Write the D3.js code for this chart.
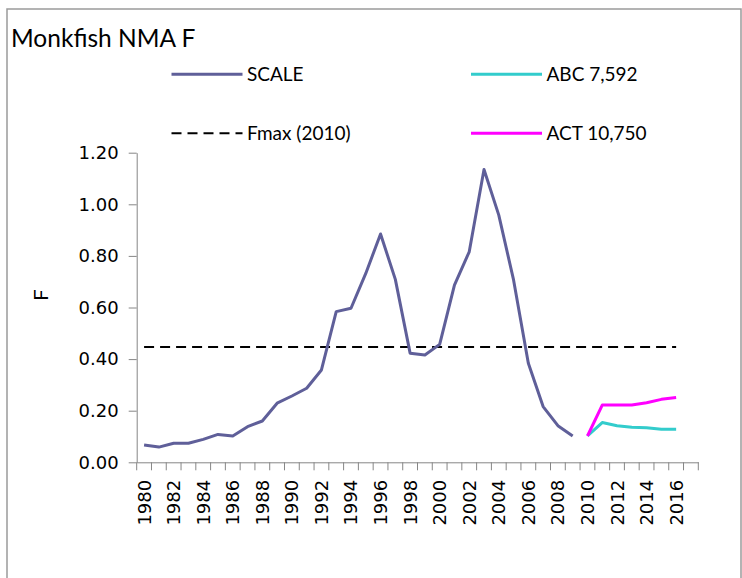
<!DOCTYPE html>
<html>
<head>
<meta charset="utf-8">
<script src="https://cdn.jsdelivr.net/npm/d3@7/dist/d3.min.js"></script>
<style>
  body { margin: 0; background: #fff; }
</style>
</head>
<body>
<div id="chart"></div>
<script>
// data
const years = [1980, 1981, 1982, 1983, 1984, 1985, 1986, 1987, 1988, 1989,
               1990, 1991, 1992, 1993, 1994, 1995, 1996, 1997, 1998, 1999,
               2000, 2001, 2002, 2003, 2004, 2005, 2006, 2007, 2008, 2009,
               2010, 2011, 2012, 2013, 2014, 2015, 2016, 2017];
const labelYears = [1980, 1982, 1984, 1986, 1988, 1990, 1992, 1994, 1996, 1998,
                    2000, 2002, 2004, 2006, 2008, 2010, 2012, 2014, 2016];
const yTicks = [0, 0.2, 0.4, 0.6, 0.8, 1.0, 1.2];

// SCALE model F, 1980-2009
const scaleValues = [0.067, 0.059, 0.074, 0.074, 0.089, 0.108, 0.102, 0.138, 0.160, 0.229,
                     0.257, 0.287, 0.358, 0.584, 0.597, 0.732, 0.885, 0.709, 0.423, 0.416,
                     0.457, 0.687, 0.816, 1.135, 0.958, 0.707, 0.384, 0.216, 0.142, 0.102];
// projections 2010-2016
const projYears = [2010, 2011, 2012, 2013, 2014, 2015, 2016];
const abcValues = [0.102, 0.154, 0.142, 0.136, 0.134, 0.128, 0.128];
const actValues = [0.102, 0.222, 0.222, 0.222, 0.231, 0.244, 0.251];
// Fmax reference line
const fmaxYears = [1980, 2016];
const fmaxValues = [0.447, 0.447];

const seriesNames = ['SCALE', 'ABC 7,592', 'Fmax (2010)', 'ACT 10,750'];

// layout
const width = 742, height = 578;
const plot = { left: 136.7, right: 698.3, top: 152.7, bottom: 462.3 };
const axisColor = '#868686';
const labelFont = 'Lato, "Liberation Sans", sans-serif';
const tickFont = '"DejaVu Sans", Verdana, sans-serif';

const svg = d3.select('#chart')
    .append('svg')
    .attr('width', width)
    .attr('height', height);

// chart frame
svg.append('rect')
    .attr('x', 7)
    .attr('y', 9)
    .attr('width', 734)
    .attr('height', 620)
    .attr('fill', '#fff')
    .attr('stroke', '#9a9a9a')
    .attr('stroke-width', 1.5);

// title
svg.append('text')
    .attr('x', 11)
    .attr('y', 46.5)
    .style('font-family', labelFont)
    .style('font-size', '24.5px')
    .style('fill', '#000')
    .text('Monkfish NMA F');

// scales
const xScale = d3.scaleBand()
    .domain(years)
    .range([plot.left, plot.right])
    .padding(0);
const cx = d => xScale(d) + xScale.bandwidth() / 2;

const yScale = d3.scaleLinear()
    .domain([0, 1.2])
    .range([plot.bottom, plot.top]);

// y axis
const yAxis = svg.append('g')
    .attr('transform', `translate(${plot.left},0)`)
    .call(d3.axisLeft(yScale)
        .tickValues(yTicks)
        .tickFormat(d3.format('.2f'))
        .tickSize(8)
        .tickSizeOuter(0)
        .tickPadding(10));
yAxis.select('.domain').attr('stroke', axisColor);
yAxis.selectAll('.tick line').attr('stroke', axisColor);
yAxis.selectAll('.tick text')
    .style('font-family', tickFont)
    .style('font-size', '18px')
    .style('fill', '#000');

// x axis: labels centred on categories, ticks on category edges
const xAxis = svg.append('g')
    .attr('transform', `translate(0,${plot.bottom})`)
    .call(d3.axisBottom(xScale)
        .tickValues(labelYears)
        .tickSize(0)
        .tickSizeOuter(0)
        .tickPadding(0));
xAxis.select('.domain').attr('stroke', axisColor);
xAxis.selectAll('.tick text')
    .attr('transform', 'rotate(-90)')
    .attr('x', -17.5)
    .attr('y', 0)
    .attr('dy', '0.36em')
    .style('text-anchor', 'end')
    .style('font-family', tickFont)
    .style('font-size', '18px')
    .style('fill', '#000');
xAxis.selectAll('.edge-tick')
    .data(years.concat(['end']))
    .enter()
    .append('line')
    .attr('class', 'edge-tick')
    .attr('x1', d => d === 'end' ? plot.right : xScale(d))
    .attr('x2', d => d === 'end' ? plot.right : xScale(d))
    .attr('y1', 0)
    .attr('y2', 8)
    .attr('stroke', axisColor);

// y axis title
svg.append('text')
    .attr('transform', 'translate(48,295) rotate(-90)')
    .attr('text-anchor', 'middle')
    .style('font-family', labelFont)
    .style('font-size', '20px')
    .style('fill', '#000')
    .text('F');

// lines
const line = d3.line()
    .x(d => cx(d[0]))
    .y(d => yScale(d[1]));

function drawSeries(yrs, vals, color, widthPx, dash) {
    const pts = yrs.map((y, i) => [y, vals[i]]);
    svg.append('path')
        .attr('d', line(pts))
        .attr('fill', 'none')
        .attr('stroke', color)
        .attr('stroke-width', widthPx)
        .attr('stroke-linejoin', 'round')
        .attr('stroke-dasharray', dash || null);
}

drawSeries(fmaxYears, fmaxValues, '#000', 2, '10 6');
drawSeries(years.slice(0, scaleValues.length), scaleValues, '#5f5f99', 3);
drawSeries(projYears, abcValues, '#33cccc', 3);
drawSeries(projYears, actValues, '#ff00ff', 3);

// legend
const legendItems = [
    { name: seriesNames[0], x: 171.5, y: 74.3, color: '#5f5f99', dash: null, w: 3 },
    { name: seriesNames[1], x: 471, y: 74.3, color: '#33cccc', dash: null, w: 3 },
    { name: seriesNames[2], x: 171.5, y: 133.3, color: '#000', dash: '10 6', w: 2 },
    { name: seriesNames[3], x: 471, y: 133.3, color: '#ff00ff', dash: null, w: 3 }
];
const legend = svg.selectAll('.legend')
    .data(legendItems)
    .enter()
    .append('g')
    .attr('class', 'legend')
    .attr('transform', d => `translate(${d.x},${d.y})`);
legend.append('line')
    .attr('x1', 0)
    .attr('x2', 71)
    .attr('stroke', d => d.color)
    .attr('stroke-width', d => d.w)
    .attr('stroke-dasharray', d => d.dash);
legend.append('text')
    .attr('x', 75.5)
    .attr('y', 0)
    .attr('dy', '0.35em')
    .style('font-family', labelFont)
    .style('font-size', '19px')
    .style('fill', '#000')
    .text(d => d.name);
</script>
</body>
</html>
